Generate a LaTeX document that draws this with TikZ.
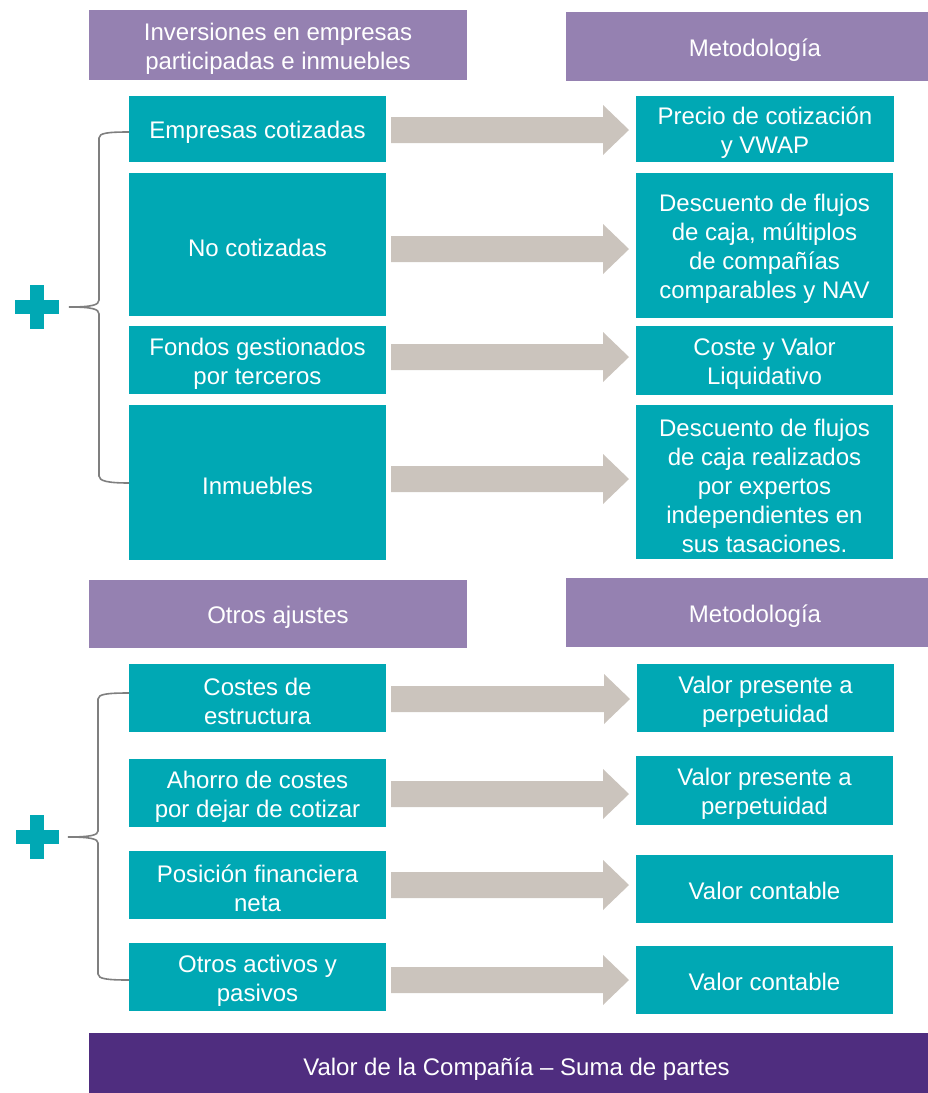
\documentclass[tikz,border=0pt]{standalone}
\usepackage{fontspec}
\setmainfont{Liberation Sans}
\usetikzlibrary{calc}
\definecolor{tealc}{RGB}{0,168,180}
\definecolor{hdrpurple}{RGB}{149,129,177}
\definecolor{darkpurple}{RGB}{79,45,127}
\definecolor{arrowgray}{RGB}{203,196,189}
\definecolor{bracegray}{RGB}{127,127,127}
\tikzset{
  boxshape/.style={inner sep=0pt, outer sep=0pt},
  boxtxt/.style={text=white, align=center, inner sep=0pt, outer sep=0pt,
    font=\fontsize{24}{29}\selectfont},
  tealbox/.style={boxshape, fill=tealc},
  hdrbox/.style={boxshape, fill=hdrpurple},
  barbox/.style={boxshape, fill=darkpurple},
  arrowfill/.style={fill=arrowgray},
  bracestyle/.style={draw=bracegray, line width=1.6pt},
  plusfill/.style={fill=tealc},
  dsh/.style={yshift=-3.5pt}
}
% name, x1, y1, x2, y2, style, text, text shift options
\newcommand{\bx}[8]{\node[#6, minimum width={(#4-#2)*1pt}, minimum height={(#5-#3)*1pt}] (#1) at ({(#2+#4)/2},{(#3+#5)/2}) {};
  \node[boxtxt, #8] (#1t) at (#1.center) {#7};}
\newcommand{\barrow}[3]{\fill[arrowfill] let \p1=(#1.east), \p2=(#2.west) in
  (\x1+5pt,-#3pt+13pt) -- (\x2-33pt,-#3pt+13pt) -- (\x2-33pt,-#3pt+25pt) -- (\x2-7pt,-#3pt)
  -- (\x2-33pt,-#3pt-25pt) -- (\x2-33pt,-#3pt-13pt) -- (\x1+5pt,-#3pt-13pt) -- cycle;}
\begin{document}
\begin{tikzpicture}[x=1pt,y=-1pt]
\useasboundingbox (0,0) rectangle (928,1093);
% headers
\bx{h1}{89}{10}{467}{80}{hdrbox}{Inversiones en empresas\\participadas e inmuebles}{dsh}
\bx{h2}{566}{12}{928}{81}{hdrbox}{Metodología}{dsh,xshift=8pt}
\bx{h3}{89}{580}{467}{648}{hdrbox}{Otros ajustes}{dsh}
\bx{h4}{566}{578}{928}{647}{hdrbox}{Metodología}{dsh,xshift=8pt}
\bx{bar}{89}{1033}{928}{1093}{barbox}{Valor de la Compañía – Suma de partes}{yshift=-6.5pt,xshift=8pt}
% top section
\bx{l1}{129}{96}{386}{162}{tealbox}{Empresas cotizadas}{dsh}
\bx{r1}{636}{96}{894}{162}{tealbox}{Precio de cotización\\y VWAP}{dsh}
\bx{l2}{129}{173}{386}{316}{tealbox}{No cotizadas}{dsh}
\bx{r2}{636}{173}{893}{318}{tealbox}{Descuento de flujos\\de caja, múltiplos\\de compañías\\comparables y NAV}{dsh}
\bx{l3}{129}{326}{386}{394}{tealbox}{Fondos gestionados\\por terceros}{dsh}
\bx{r3}{636}{326}{893}{395}{tealbox}{Coste y Valor\\Liquidativo}{dsh}
\bx{l4}{129}{405}{386}{560}{tealbox}{Inmuebles}{dsh}
\bx{r4}{636}{405}{893}{559}{tealbox}{Descuento de flujos\\de caja realizados\\por expertos\\independientes en\\sus tasaciones.}{dsh}
% bottom section
\bx{l5}{129}{664}{386}{732}{tealbox}{Costes de\\estructura}{dsh}
\bx{r5}{637}{664}{894}{732}{tealbox}{Valor presente a\\perpetuidad}{dsh}
\bx{l6}{129}{759}{386}{827}{tealbox}{Ahorro de costes\\por dejar de cotizar}{dsh}
\bx{r6}{636}{756}{893}{825}{tealbox}{Valor presente a\\perpetuidad}{dsh}
\bx{l7}{129}{851}{386}{919}{tealbox}{Posición financiera\\neta}{dsh}
\bx{r7}{636}{855}{893}{923}{tealbox}{Valor contable}{yshift=-1.5pt}
\bx{l8}{129}{943}{386}{1011}{tealbox}{Otros activos y\\pasivos}{dsh}
\bx{r8}{636}{946}{893}{1014}{tealbox}{Valor contable}{yshift=-1.5pt}
% arrows
\barrow{l1}{r1}{130}
\barrow{l2}{r2}{249}
\barrow{l3}{r3}{357}
\barrow{l4}{r4}{479}
\barrow{l5}{r5}{699}
\barrow{l6}{r6}{794}
\barrow{l7}{r7}{885}
\barrow{l8}{r8}{980}
% braces
\draw[bracestyle] (129,132) .. controls (108,132) and (99,133) .. (99,138) -- (99,300)
  .. controls (99,305) and (92,307) .. (69,307)
  .. controls (92,307) and (99,309) .. (99,314) -- (99,476)
  .. controls (99,481) and (108,483) .. (129,483);
\draw[bracestyle] (129,693) .. controls (108,693) and (98,694) .. (98,699) -- (98,831)
  .. controls (98,835) and (91,837) .. (68,837)
  .. controls (91,837) and (98,839) .. (98,843) -- (98,974)
  .. controls (98,979) and (108,980) .. (129,980);
% plus signs
\fill[plusfill] (15,300) rectangle (59,314);
\fill[plusfill] (30,285) rectangle (44,329);
\fill[plusfill] (16,830) rectangle (59,844);
\fill[plusfill] (30,815) rectangle (44,859);
\end{tikzpicture}
\end{document}
